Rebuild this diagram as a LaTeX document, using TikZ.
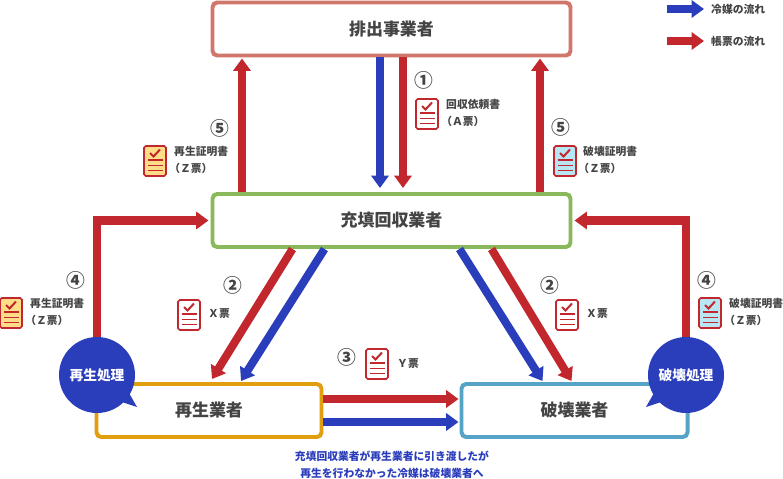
\documentclass[tikz,border=0pt]{standalone}
\usepackage{fontspec}
\setmainfont{Noto Sans CJK JP}
\usepackage{xcolor}
\usetikzlibrary{arrows.meta,calc}
\definecolor{flowblue}{HTML}{2A3DBB}
\definecolor{flowred}{HTML}{C1272D}
\definecolor{flowink}{HTML}{444444}
\definecolor{boxrose}{HTML}{D0766A}
\definecolor{boxgreen}{HTML}{8AB85C}
\definecolor{boxorange}{HTML}{E19F0F}
\definecolor{boxcyan}{HTML}{55A3C6}
\definecolor{slipyellow}{HTML}{FFDD88}
\definecolor{slipcyan}{HTML}{B8E6F2}
\newcommand{\boxfont}{\fontsize{14.5}{17}\selectfont\bfseries}
\newcommand{\smallfont}{\fontsize{9.2}{14.5}\selectfont\bfseries}
\newcommand{\zslip}{\hspace*{-0.45em}（Ｚ票）}
\tikzset{
  partyBox/.style={draw=#1, fill=white, line width=3.4, rounded corners=4pt, minimum width=358*0.03cm, minimum height=53*0.03cm, inner sep=0pt, font=\boxfont, text=flowink},
  redFlow/.style={draw=flowred, line width=6.9pt, -{Triangle[length=10.5pt,width=14.5pt]}},
  blueFlow/.style={draw=flowblue, line width=6.9pt, -{Triangle[length=10.5pt,width=14.5pt]}},
  noteLabel/.style={font=\smallfont, text=flowink, align=left, anchor=west, inner sep=0pt},
  numLabel/.style={font=\fontsize{16}{16}\selectfont\bfseries, text=flowink, inner sep=0pt},
  treatBall/.style={circle, fill=flowblue, minimum size=76*0.03cm, inner sep=0pt, text=white, font=\fontsize{11.7}{14}\selectfont\bfseries},
  pics/slip/.style={code={
    \draw[flowred, fill=#1, line width=1.3pt, rounded corners=1.5pt] (-11,-15) rectangle (11,15);
    \draw[flowred, line width=1.7pt] (-5,-8) -- (-1.5,-4.5) -- (5,-11.5);
    \draw[flowred, line width=1.3pt] (-7.5,-1) -- (7.5,-1) (-7.5,4.3) -- (7.5,4.3) (-7.5,9.7) -- (7.5,9.7);
  }}
}
\begin{document}
\begin{tikzpicture}[x=0.03cm,y=-0.03cm]
  \useasboundingbox (0,0) rectangle (783,479);
  % parties
  \node[partyBox=boxrose] (emitter) at (391.5,29) {排出事業者};
  \node[partyBox=boxgreen] (collector) at (391.5,220.5) {充填回収業者};
  \node[partyBox=boxorange, minimum width=225*0.03cm] (recycler) at (209,410.5) {再生業者};
  \node[partyBox=boxcyan, minimum width=226*0.03cm] (destroyer) at (574.5,410.5) {破壊業者};
  % treatment balloons
  \node[treatBall] (recycling) at (97,375) {再生処理};
  \node[treatBall] (destroying) at (686,375) {破壊処理};
  \fill[flowblue] (122,402) -- (137,407) -- (129,393) -- cycle;
  \fill[flowblue] (661,402) -- (646,407) -- (654,393) -- cycle;
  % flows
  \draw[blueFlow] ($(emitter.south)+(-11.5,0)$) -- ($(collector.north)+(-11.5,-4)$);
  \draw[redFlow] ($(emitter.south)+(11.5,0)$) -- ($(collector.north)+(11.5,-4)$);
  \draw[redFlow] ($(collector.north)+(-149.5,0)$) -- ($(emitter.south)+(-149.5,1)$);
  \draw[redFlow] ($(collector.north)+(148.5,0)$) -- ($(emitter.south)+(148.5,1)$);
  \draw[redFlow] (recycling.north) |- ($(collector.west)+(-2,0)$);
  \draw[redFlow] (destroying.north) |- ($(collector.east)+(2,0)$);
  \draw[redFlow] ($(collector.south)+(-99,0)$) -- ($(recycler.north)+(3,-3)$);
  \draw[blueFlow] ($(collector.south)+(-67,0)$) -- ($(recycler.north)+(32,-1)$);
  \draw[blueFlow] ($(collector.south)+(68,0)$) -- ($(destroyer.north)+(-32,-1)$);
  \draw[redFlow] ($(collector.south)+(100,0)$) -- ($(destroyer.north)+(-3,-1)$);
  \draw[redFlow] ($(recycler.east)+(0,-11.5)$) -- ($(destroyer.west)+(-1,-11.5)$);
  \draw[blueFlow] ($(recycler.east)+(0,11.5)$) -- ($(destroyer.west)+(-1,11.5)$);
  % slips
  \pic at (427,114) {slip=white};
  \pic at (155,161) {slip=slipyellow};
  \pic at (565,161) {slip=slipcyan};
  \pic at (11,313) {slip=slipyellow};
  \pic at (710,313) {slip=slipcyan};
  \pic at (189,315) {slip=white};
  \pic at (567,315) {slip=white};
  \pic at (377,364) {slip=white};
  % numbers
  \node[numLabel] (numA) at (424,80) {①};
  \node[numLabel] (numB) at (220,128) {⑤};
  \node[numLabel] (numC) at (561,127) {⑤};
  \node[numLabel] (numD) at (76,280) {④};
  \node[numLabel] (numE) at (707,280) {④};
  \node[numLabel] (numF) at (233,285) {②};
  \node[numLabel] (numG) at (550,285) {②};
  \node[numLabel] (numH) at (347,357) {③};
  % labels
  \node[noteLabel] (noteA) at (446,113) {回収依頼書\\\hspace*{-0.45em}（Ａ票）};
  \node[noteLabel] (noteB) at (174,160) {再生証明書\\\zslip};
  \node[noteLabel] (noteC) at (583,160) {破壊証明書\\\zslip};
  \node[noteLabel] (noteD) at (30,312) {再生証明書\\\zslip};
  \node[noteLabel] (noteE) at (729,312) {破壊証明書\\\zslip};
  \node[noteLabel] (noteF) at (208,314) {Ｘ票};
  \node[noteLabel] (noteG) at (586,314) {Ｘ票};
  \node[noteLabel] (noteH) at (397,364) {Ｙ票};
  \node[noteLabel, text=flowblue, align=center, anchor=center] (noteI) at (392,464.5) {充填回収業者が再生業者に引き渡したが\\再生を行わなかった冷媒は破壊業者へ};
  % legend
  \coordinate (legA) at (667,9);
  \coordinate (legB) at (704,9);
  \coordinate (legC) at (667,41);
  \coordinate (legD) at (704,41);
  \draw[blueFlow] (legA) -- (legB);
  \draw[redFlow] (legC) -- (legD);
  \node[noteLabel] (legBlue) at (711,9) {冷媒の流れ};
  \node[noteLabel] (legRed) at (711,41) {帳票の流れ};
\end{tikzpicture}
\end{document}
